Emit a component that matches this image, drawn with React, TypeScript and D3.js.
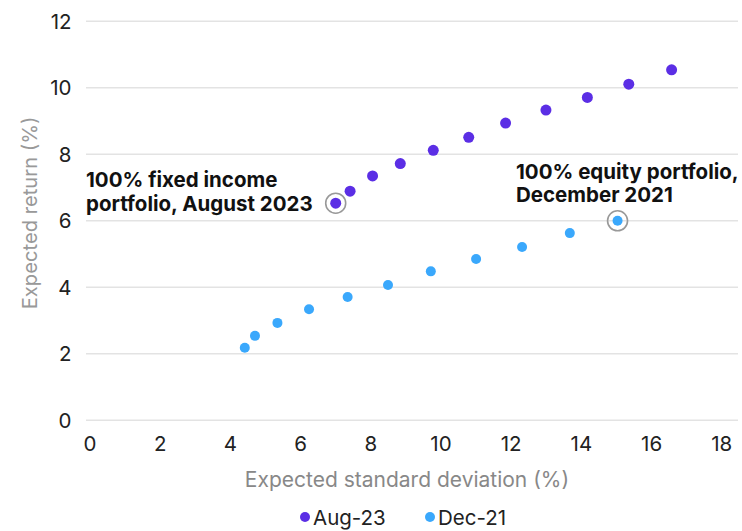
import React from "react";
import * as d3 from "d3";

const aug23X = [7.0, 7.41, 8.05, 8.84, 9.78, 10.79, 11.84, 12.99, 14.17, 15.35, 16.57];
const aug23Y = [6.53, 6.89, 7.35, 7.72, 8.12, 8.51, 8.94, 9.33, 9.71, 10.11, 10.54];
const dec21X = [4.41, 4.7, 5.34, 6.24, 7.34, 8.49, 9.71, 11.0, 12.31, 13.67, 15.03];
const dec21Y = [2.18, 2.54, 2.93, 3.34, 3.71, 4.07, 4.48, 4.85, 5.21, 5.63, 6.0];
const xTicks = [0, 2, 4, 6, 8, 10, 12, 14, 16, 18];
const yTicks = [0, 2, 4, 6, 8, 10, 12];
const seriesNames = ["Aug-23", "Dec-21"];
const seriesColors = ["#5b2ee5", "#3aa8fc"];

const W = 742;
const H = 531;
const FONT = "Inter, 'Noto Sans', sans-serif";

export default function App() {
  const x = d3.scaleLinear().domain([0, 18]).range([90, 721.8]);
  const y = d3.scaleLinear().domain([0, 12]).range([420.3, 21.3]);
  const gridX0 = 86;
  const gridX1 = 738;

  const aug = aug23X.map((v, i) => ({ x: v, y: aug23Y[i] }));
  const dec = dec21X.map((v, i) => ({ x: v, y: dec21Y[i] }));
  const hiA = aug[0];
  const hiD = dec[dec.length - 1];

  return (
    <svg
      width={W}
      height={H}
      style={{ position: "absolute", left: 0, top: 0, background: "#fff" }}
      fontFamily={FONT}
    >
      {yTicks.map((t) => (
        <g key={"y" + t}>
          <line x1={gridX0} x2={gridX1} y1={y(t)} y2={y(t)} stroke="#e3e3e3" strokeWidth={1.5} />
          <text x={71.5} y={y(t)} dy="0.36em" textAnchor="end" fontSize={20.5} fill="#222" fontWeight={400}>
            {t}
          </text>
        </g>
      ))}
      {xTicks.map((t) => (
        <text key={"x" + t} x={x(t)} y={450.5} textAnchor="middle" fontSize={20.5} fill="#222" fontWeight={400}>
          {t}
        </text>
      ))}
      <text x={407} y={486.5} textAnchor="middle" fontSize={21} fill="#888" fontWeight={400}>
        Expected standard deviation (%)
      </text>
      <text
        transform={`translate(37,213) rotate(-90)`}
        textAnchor="middle"
        fontSize={20.2}
        fill="#999"
        fontWeight={400}
      >
        Expected return (%)
      </text>

      {/* highlight rings */}
      <circle cx={x(hiA.x)} cy={y(hiA.y)} r={10} fill="none" stroke="#999" strokeWidth={1.6} />
      <circle cx={x(hiD.x)} cy={y(hiD.y)} r={10} fill="none" stroke="#999" strokeWidth={1.6} />

      {dec.map((d, i) => (
        <circle key={"d" + i} cx={x(d.x)} cy={y(d.y)} r={5} fill={seriesColors[1]} />
      ))}
      {aug.map((d, i) => (
        <circle key={"a" + i} cx={x(d.x)} cy={y(d.y)} r={5.5} fill={seriesColors[0]} />
      ))}

      <g fontSize={20.5} fontWeight={700} fill="#111">
        <text x={86} y={186.5}>100% fixed income</text>
        <text x={86} y={210.5}>portfolio, August 2023</text>
        <text x={516} y={178.5}>100% equity portfolio,</text>
        <text x={516} y={202}>December 2021</text>
      </g>

      {/* legend */}
      {seriesNames.map((n, i) => {
        const lx = i === 0 ? 305 : 430;
        return (
          <g key={n}>
            <circle cx={lx} cy={517} r={5} fill={seriesColors[i]} />
            <text x={lx + 8} y={524.5} fontSize={20.5} fill="#222" fontWeight={400}>
              {n}
            </text>
          </g>
        );
      })}
    </svg>
  );
}
